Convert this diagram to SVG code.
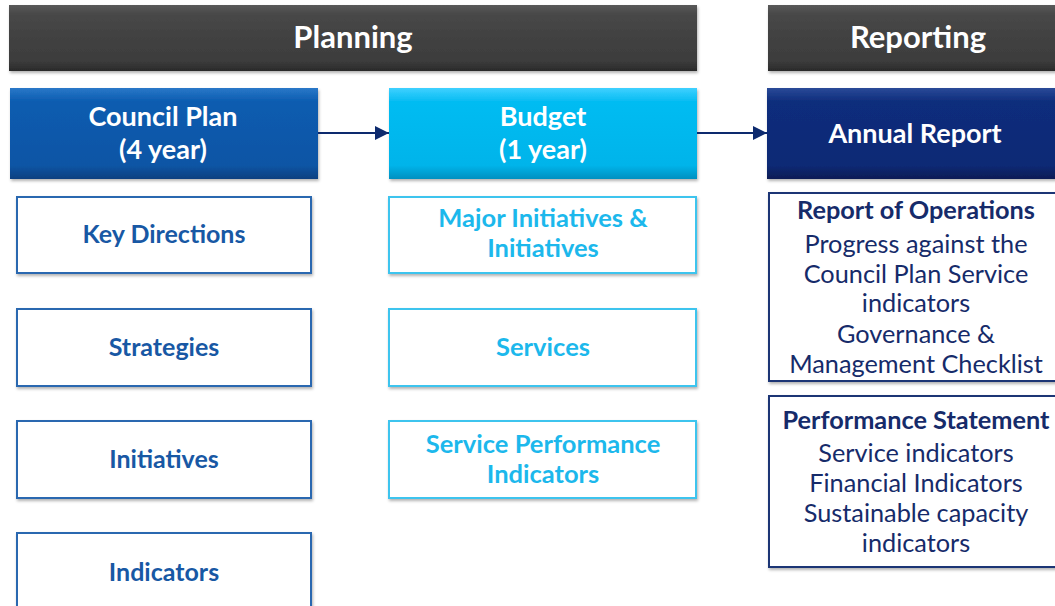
<svg xmlns="http://www.w3.org/2000/svg" width="1055" height="606" viewBox="0 0 1055 606">
<defs>
<linearGradient id="gGray" x1="0" y1="0" x2="0" y2="1"><stop offset="0" stop-color="#5a5a5a"/><stop offset="0.15" stop-color="#474747"/><stop offset="0.85" stop-color="#3c3c3c"/><stop offset="1" stop-color="#2a2a2a"/></linearGradient>
<linearGradient id="gCP" x1="0" y1="0" x2="0" y2="1"><stop offset="0" stop-color="#2a78c8"/><stop offset="0.15" stop-color="#0b5cb0"/><stop offset="0.85" stop-color="#0a55a5"/><stop offset="1" stop-color="#074080"/></linearGradient>
<linearGradient id="gBud" x1="0" y1="0" x2="0" y2="1"><stop offset="0" stop-color="#40d0ff"/><stop offset="0.15" stop-color="#05bcf2"/><stop offset="0.85" stop-color="#02b4ea"/><stop offset="1" stop-color="#0290c0"/></linearGradient>
<linearGradient id="gAR" x1="0" y1="0" x2="0" y2="1"><stop offset="0" stop-color="#2a4a98"/><stop offset="0.15" stop-color="#0e2d7c"/><stop offset="0.85" stop-color="#0c2a75"/><stop offset="1" stop-color="#081c55"/></linearGradient>
<filter id="sh" x="-5%" y="-10%" width="110%" height="125%"><feDropShadow dx="1" dy="2" stdDeviation="1.5" flood-color="#000" flood-opacity="0.3"/></filter>
<marker id="arr" viewBox="0 0 10 10" refX="10" refY="5" markerWidth="14" markerHeight="14" markerUnits="userSpaceOnUse" orient="auto"><path d="M0,0 L10,5 L0,10 z" fill="#0d2a6e"/></marker>
</defs>
<style>
text{font-family:Lato,"Open Sans","Liberation Sans",sans-serif;text-anchor:middle}
.hd{font-size:31px;font-weight:bold;fill:#fff}
.tl{font-size:27px;font-weight:bold;fill:#fff}
.lb{font-size:25px;font-weight:bold;fill:#1858a4}
.mb{font-size:25.5px;font-weight:bold;fill:#1cb8ec}
.rb{font-size:25.3px;font-weight:bold;fill:#162b6a}
.rt{font-size:25.3px;fill:#162b6a}
.wl{fill:#fff;stroke:#2a68b0;stroke-width:2}
.wm{fill:#fff;stroke:#3cc4ee;stroke-width:2}
.wr{fill:#fff;stroke:#1e3474;stroke-width:2}
</style>
<rect width="1055" height="606" fill="#fff"/>
<g id="planning"><rect x="9" y="5" width="688" height="66" fill="url(#gGray)" filter="url(#sh)"/><text class="hd" x="353" y="48">Planning</text></g>
<g id="reporting"><rect x="768" y="5" width="290" height="66" fill="url(#gGray)" filter="url(#sh)"/><text class="hd" x="918" y="48">Reporting</text></g>
<g id="council-plan"><rect x="10" y="88" width="308" height="91" fill="url(#gCP)" filter="url(#sh)"/><text class="tl" x="163" y="126">Council Plan</text><text class="tl" x="163" y="159">(4 year)</text></g>
<g id="budget"><rect x="389" y="88" width="308" height="91" fill="url(#gBud)" filter="url(#sh)"/><text class="tl" x="543" y="126">Budget</text><text class="tl" x="543" y="159">(1 year)</text></g>
<g id="annual-report"><rect x="767" y="88" width="292" height="91" fill="url(#gAR)" filter="url(#sh)"/><text class="tl" x="915" y="143">Annual Report</text></g>
<g id="connectors"><line x1="318" y1="133" x2="389" y2="133" stroke="#0d2a6e" stroke-width="2" marker-end="url(#arr)"/><line x1="697" y1="133" x2="767" y2="133" stroke="#0d2a6e" stroke-width="2" marker-end="url(#arr)"/></g>
<g id="key-directions"><rect class="wl" x="17" y="197" width="294" height="76" filter="url(#sh)"/><text class="lb" x="164" y="243">Key Directions</text></g>
<g id="strategies"><rect class="wl" x="17" y="309" width="294" height="77" filter="url(#sh)"/><text class="lb" x="164" y="356">Strategies</text></g>
<g id="initiatives"><rect class="wl" x="17" y="421" width="294" height="77" filter="url(#sh)"/><text class="lb" x="164" y="468">Initiatives</text></g>
<g id="indicators"><rect class="wl" x="17" y="533" width="294" height="80" filter="url(#sh)"/><text class="lb" x="164" y="581">Indicators</text></g>
<g id="major-initiatives"><rect class="wm" x="389" y="197" width="307" height="76" filter="url(#sh)"/><text class="mb" x="543" y="227">Major Initiatives &amp;</text><text class="mb" x="543" y="257">Initiatives</text></g>
<g id="services"><rect class="wm" x="389" y="309" width="307" height="77" filter="url(#sh)"/><text class="mb" x="543" y="356">Services</text></g>
<g id="service-performance-indicators"><rect class="wm" x="389" y="421" width="307" height="77" filter="url(#sh)"/><text class="mb" x="543" y="453">Service Performance</text><text class="mb" x="543" y="483">Indicators</text></g>
<g id="report-of-operations"><rect class="wr" x="769" y="193" width="292" height="188" filter="url(#sh)"/><text class="rb" x="916" y="219">Report of Operations</text><text class="rt" x="916" y="253">Progress against the</text><text class="rt" x="916" y="283">Council Plan Service</text><text class="rt" x="916" y="312">indicators</text><text class="rt" x="916" y="343">Governance &amp;</text><text class="rt" x="916" y="373">Management Checklist</text></g>
<g id="performance-statement"><rect class="wr" x="769" y="396" width="292" height="171" filter="url(#sh)"/><text class="rb" x="916" y="429">Performance Statement</text><text class="rt" x="916" y="462">Service indicators</text><text class="rt" x="916" y="492">Financial Indicators</text><text class="rt" x="916" y="522">Sustainable capacity</text><text class="rt" x="916" y="552">indicators</text></g>
</svg>
